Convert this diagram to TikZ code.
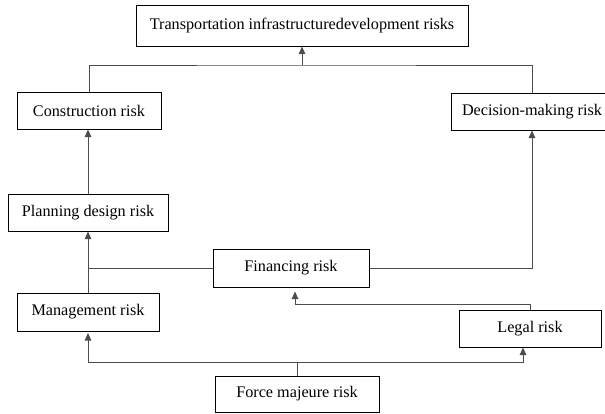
\documentclass[tikz,border=0pt]{standalone}
\usepackage{fontspec}
\setmainfont{Liberation Serif}
\usetikzlibrary{arrows.meta}
\begin{document}
\begin{tikzpicture}[x=1pt,y=-1pt,
  box/.style={draw=black, line width=1pt, inner sep=0pt, fill=white, font=\fontsize{16.2}{19}\selectfont},
  conn/.style={draw=black!70, line width=1pt},
  arr/.style={conn, -{Triangle[length=7.5pt,width=6.5pt]}}]
\useasboundingbox (0,0) rectangle (605,413);
\node[box, minimum width=332pt, minimum height=41pt] (top) at (302,25.5) {Transportation infrastructuredevelopment risks};
\node[box, minimum width=144pt, minimum height=37pt] (cons) at (89,110.5) {Construction risk};
\node[box, minimum width=162pt, minimum height=37pt] (dec) at (532,111.5) {Decision-making risk};
\node[box, minimum width=160pt, minimum height=37pt] (plan) at (88,212.5) {Planning design risk};
\node[box, minimum width=156pt, minimum height=38pt] (fin) at (291,268) {Financing risk};
\node[box, minimum width=142pt, minimum height=38pt] (man) at (88,312) {Management risk};
\node[box, minimum width=142pt, minimum height=37pt] (legal) at (530,328.5) {Legal risk};
\node[box, minimum width=164pt, minimum height=36pt] (force) at (297,394) {Force majeure risk};
\coordinate (j1) at (302,65);
\coordinate (j3) at (295,304);
\coordinate (j4) at (297,362);
% top level
\draw[conn] (cons.north) |- (j1) -| (dec.north);
\draw[arr] (j1) -- (top.south);
% left column
\draw[arr] (plan.north) -- (plan.north |- cons.south);
\draw[arr] (man.north) -- (plan.south);
% financing
\draw[conn] (fin.west) -- (fin.west -| man.north);
\draw[arr] (fin.east) -| (dec.south);
% legal to financing
\draw[arr, shorten >=4pt] (legal.north) |- (j3) -- (j3 |- fin.south);
% force majeure
\draw[conn] (force.north) -- (j4);
\draw[arr, shorten >=1.5pt] (j4) -| (man.south);
\draw[arr] (j4) -| ([xshift=-7pt]legal.south);
\end{tikzpicture}
\end{document}
